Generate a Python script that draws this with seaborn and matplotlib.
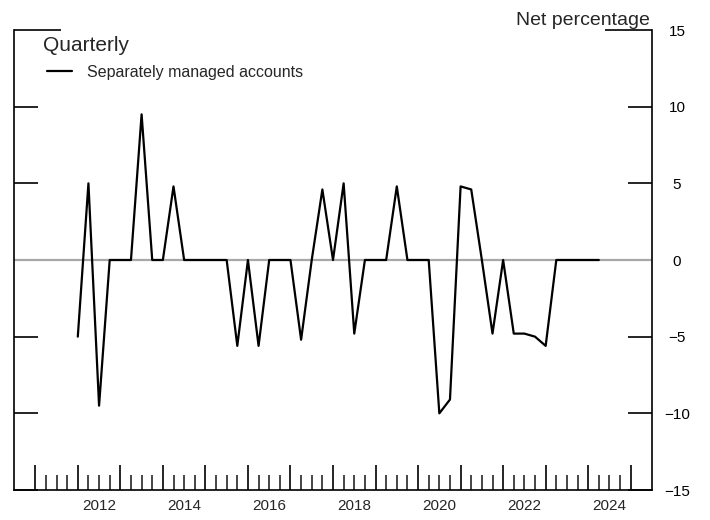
import matplotlib
matplotlib.use("Agg")
import matplotlib.pyplot as plt
import seaborn as sns
import pandas as pd

# Quarterly net percentage, first observation 2012 Q1
quarters = pd.period_range("2012Q1", periods=50, freq="Q")
net_pct = [-5, 5, -9.5, 0, 0, 0, 9.5, 0, 0, 4.8,
           0, 0, 0, 0, 0, -5.6, 0, -5.6, 0, 0,
           0, -5.2, 0, 4.6, 0, 5, -4.8, 0, 0, 0,
           4.8, 0, 0, 0, -10, -9.1, 4.8, 4.6, 0, -4.8,
           0, -4.8, -4.8, -5, -5.6, 0, 0, 0, 0, 0]
series_name = "Separately managed accounts"
year_labels = ["2012", "2014", "2016", "2018", "2020", "2022", "2024"]
y_ticks = [-15, -10, -5, 0, 5, 10, 15]

df = pd.DataFrame({
    "date": [q.year + (q.quarter - 1) / 4 for q in quarters],
    "value": net_pct,
})

sns.set_style("ticks")
plt.rcParams["font.family"] = ["Liberation Sans", "DejaVu Sans"]

fig = plt.figure(figsize=(7.1, 5.2), dpi=100)
ax = fig.add_axes([14 / 710, 30 / 520, 638 / 710, 460 / 520])

ax.axhline(0, color="#a8a8a8", lw=1.6, zorder=1)
sns.lineplot(data=df, x="date", y="value", ax=ax, color="black", lw=1.6,
             label=series_name, zorder=3)

ax.set_xlim(2010.5, 2025.5)
ax.set_ylim(-15, 15)
ax.set_xlabel("")
ax.set_ylabel("")

# spines
ax.spines["top"].set_visible(False)
for s in ["left", "right", "bottom"]:
    ax.spines[s].set_visible(True)
    ax.spines[s].set_linewidth(1.2)
    ax.spines[s].set_color("black")

# y axis: ticks both sides, labels on right
ax.set_yticks(y_ticks)
ax.tick_params(axis="y", which="major", direction="in", length=17, width=1.2,
               left=True, right=True, labelleft=False, labelright=True,
               labelsize=11, pad=18, colors="black")
yt = ax.yaxis.get_major_ticks()
for t in yt:
    t.label2.set_horizontalalignment("center")
yt[-1].tick1line.set_markersize(34)
yt[-1].tick2line.set_markersize(34)

# x axis: year ticks + quarter minor ticks
first_year, last_year = 2011, 2025
ax.set_xticks(list(range(first_year, last_year + 1)))
ax.set_xticks([y + q / 4 for y in range(first_year, last_year) for q in (1, 2, 3)], minor=True)
ax.tick_params(axis="x", which="major", direction="in", length=18, width=1.2,
               bottom=True, top=False, labelbottom=False, colors="black")
ax.tick_params(axis="x", which="minor", direction="in", length=11, width=1.2,
               bottom=True, top=False)

# year labels centred mid-year
sec = ax.secondary_xaxis("bottom")
sec.set_xticks([int(y) + 0.5 for y in year_labels], labels=year_labels)
sec.tick_params(length=0, labelsize=11, pad=6.5)
sec.spines["bottom"].set_visible(False)

ax.legend(loc="center left", bbox_to_anchor=(47 / 710, 1 - 72 / 520),
          bbox_transform=fig.transFigure, frameon=False, borderpad=0,
          borderaxespad=0, handlelength=1.57, handletextpad=0.94, fontsize=11.5)

fig.text(43 / 710, 1 - 51 / 520, "Quarterly", fontsize=15, va="baseline")
fig.text(650 / 710, 1 - 25 / 520, "Net percentage", fontsize=14, ha="right", va="baseline")

fig.savefig("out.png", dpi=100)
